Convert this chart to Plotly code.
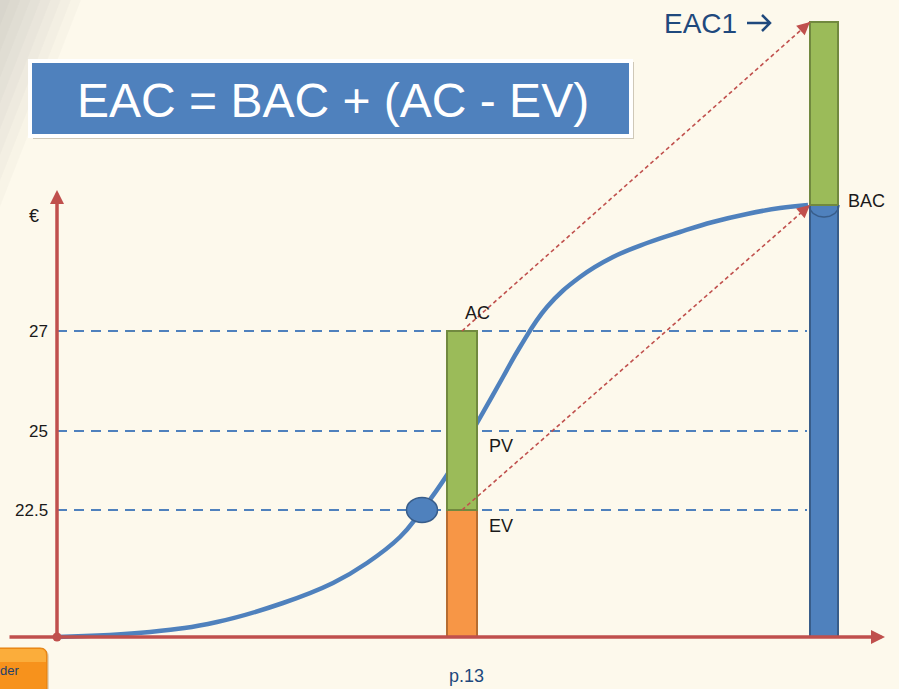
import numpy as np
import plotly.graph_objects as go

# ---------------- data (schematic chart units) ----------------
curve_t = [0, 93, 160, 226, 276, 310, 343, 363, 390, 420, 446, 463, 490, 523, 556, 590, 623, 656, 690, 723, 751]
curve_v = [0, 5, 15, 34, 54, 74, 100, 124, 162, 214, 260, 290, 330, 360, 380, 394, 405, 415, 423, 429, 432]

status_t = 405      # status date (AC / PV / EV bar)
end_t = 767         # planned completion (BAC / EAC bar)
ev_t = 365          # EV point on the curve

ev_level = 127      # 22.5
pv_level = 206      # 25
ac_level = 306      # 27
bac_level = 432     # BAC
eac_level = 615     # EAC1

tick_vals = [ev_level, pv_level, ac_level]
tick_text = ["22.5", "25", "27"]

# ---------------- styles ----------------
RED = "#c0504d"
BLUE = "#4f81bd"
DBLUE = "#385d8a"
GREEN = "#9bbb59"
DGREEN = "#71893f"
ORANGE = "#f79646"
DORANGE = "#b66d31"
NAVY = "#1f497d"
BG = "#fdf9ec"
FONT = "Liberation Sans, Arial, sans-serif"

W, H = 899, 689
X0, Y0 = 57, 637          # pixel position of the origin
XR = [-X0, W - X0]
YR = [Y0 - H, Y0]

fig = go.Figure()

# S-curve (base subplot, drawn beneath the bars)
fig.add_trace(go.Scatter(x=curve_t, y=curve_v, mode="lines",
                         line=dict(color=BLUE, width=4.5, shape="spline", smoothing=1.2),
                         hoverinfo="skip", showlegend=False))

# Bars (overlay subplot so they sit above the curve)
bw1, bw2 = 30, 28
bars = [
    (status_t, 0, ev_level, bw1, ORANGE, DORANGE),
    (status_t, ev_level, ac_level, bw1, GREEN, DGREEN),
    (end_t, 0, bac_level, bw2, BLUE, DBLUE),
    (end_t, bac_level, eac_level, bw2, GREEN, DGREEN),
]
for t, b, top, w, c, lc in bars:
    fig.add_trace(go.Bar(x=[t], y=[top - b], base=[b], width=w,
                         marker=dict(color=c, line=dict(color=lc, width=2)),
                         xaxis="x2", yaxis="y2", hoverinfo="skip", showlegend=False))

# half circle at BAC (end of curve)
th = np.linspace(np.pi, 2 * np.pi, 40)
fig.add_trace(go.Scatter(x=end_t + 15 * np.cos(th), y=bac_level + 12 * np.sin(th),
                         mode="lines", line=dict(color=DBLUE, width=1.5),
                         xaxis="x2", yaxis="y2", hoverinfo="skip", showlegend=False))

shapes = []
annotations = []

# background corner shading (soft)
for k in range(8):
    f = 1 - k / 8
    shapes.append(dict(type="path", xref="paper", yref="paper", layer="below",
                       path=f"M 0 1 L {0.09 * f:.4f} 1 L 0 {1 - 0.30 * f:.4f} Z",
                       fillcolor="rgba(150,145,130,0.045)", line=dict(width=0)))

# dashed reference lines
for lv in tick_vals:
    shapes.append(dict(type="line", xref="x", yref="y", layer="below",
                       x0=0, x1=end_t - bw2 / 2 - 3, y0=lv, y1=lv,
                       line=dict(color=BLUE, width=2, dash="10px,7px")))

# axes (lines with arrowheads)
annotations.append(dict(x=0, y=447, ax=0, ay=0, axref="x", ayref="y", xref="x", yref="y",
                        text="", showarrow=True, arrowhead=2, arrowsize=0.8,
                        arrowwidth=3.5, arrowcolor=RED))
annotations.append(dict(x=828, y=0, ax=-49, ay=0, axref="x", ayref="y", xref="x", yref="y",
                        text="", showarrow=True, arrowhead=2, arrowsize=0.8,
                        arrowwidth=3.5, arrowcolor=RED))
shapes.append(dict(type="circle", xref="x", yref="y", x0=-4.5, x1=4.5, y0=-4.5, y1=4.5,
                   fillcolor=RED, line=dict(width=0)))

# EV point marker
shapes.append(dict(type="circle", xref="x", yref="y",
                   x0=ev_t - 15.5, x1=ev_t + 15.5, y0=ev_level - 12.5, y1=ev_level + 12.5,
                   fillcolor=BLUE, line=dict(color=DBLUE, width=1.5)))

# dotted red arrows (AC -> EAC1, EV -> BAC)
for (sx, sy, ex, ey) in [(status_t, ac_level, end_t - bw2 / 2, eac_level),
                         (status_t, ev_level, end_t - bw2 / 2, bac_level)]:
    shapes.append(dict(type="line", xref="x", yref="y", x0=sx, y0=sy, x1=ex, y1=ey,
                       line=dict(color=RED, width=1.6, dash="4px,3px")))
    d = np.hypot(ex - sx, ey - sy)
    ux, uy = (ex - sx) / d, (ey - sy) / d
    annotations.append(dict(x=ex, y=ey, ax=ex - 9 * ux, ay=ey - 9 * uy,
                            axref="x", ayref="y", xref="x", yref="y", text="",
                            showarrow=True, arrowhead=2, arrowsize=1.6,
                            arrowwidth=1.6, arrowcolor=RED))

# title box
shapes.append(dict(type="rect", xref="x", yref="y", x0=-24, x1=577, y0=498, y1=575,
                   fillcolor="rgba(120,110,90,0.35)", line=dict(width=0)))
shapes.append(dict(type="rect", xref="x", yref="y", x0=-27, x1=574, y0=501, y1=576,
                   fillcolor=BLUE, line=dict(color="white", width=4)))
annotations.append(dict(x=276, y=537, xref="x", yref="y", text="EAC = BAC + (AC - EV)",
                        showarrow=False, font=dict(family=FONT, size=48, color="white")))

# y tick labels
for v, t in zip(tick_vals, tick_text):
    annotations.append(dict(x=-7, y=v, xref="x", yref="y", text=t, xanchor="right",
                            showarrow=False, font=dict(family=FONT, size=17, color="#1a1a1a")))
annotations.append(dict(x=-23, y=421, xref="x", yref="y", text="€", showarrow=False,
                        font=dict(family=FONT, size=18, color="#1a1a1a")))

# bar labels
annotations += [
    dict(x=status_t + 15, y=ac_level + 18, text="AC", xanchor="center"),
    dict(x=status_t + 25, y=pv_level - 15, text="PV", xanchor="left"),
    dict(x=status_t + 25, y=ev_level - 16, text="EV", xanchor="left"),
    dict(x=end_t + 22, y=bac_level + 4, text="BAC", xanchor="left"),
]
for a in annotations[-4:]:
    a.update(xref="x", yref="y", showarrow=False,
             font=dict(family=FONT, size=18, color="#1a1a1a"))

# "EAC1 ->" label
lx = end_t - 2 * bw2 - 29
annotations.append(dict(x=lx, y=eac_level - 1, xref="x", yref="y",
                        text="EAC1", xanchor="right", showarrow=False,
                        font=dict(family=FONT, size=28, color=NAVY)))
ay_ = eac_level - 1
shapes.append(dict(type="path", xref="x", yref="y",
                   path=(f"M {lx + 8} {ay_} L {lx + 31} {ay_} "
                         f"M {lx + 23} {ay_ + 8} L {lx + 31} {ay_} L {lx + 23} {ay_ - 8}"),
                   line=dict(color=NAVY, width=2.5)))

# page number
annotations.append(dict(x=409, y=-39, xref="x", yref="y", text="p.13", showarrow=False,
                        font=dict(family=FONT, size=18, color=NAVY)))

# orange button at bottom-left
r = 7
bx0, bx1, by0, by1 = -64, -10, -60, -11
shapes.append(dict(type="path", xref="x", yref="y",
                   path=(f"M {bx0} {by1 - 2} L {bx1 - r + 2} {by1 - 2} Q {bx1 + 2} {by1 - 2} {bx1 + 2} {by1 - r - 2} "
                         f"L {bx1 + 2} {by0} L {bx0} {by0} Z"),
                   fillcolor="rgba(150,110,60,0.25)", line=dict(width=0)))
shapes.append(dict(type="path", xref="x", yref="y",
                   path=(f"M {bx0} {by1} L {bx1 - r} {by1} Q {bx1} {by1} {bx1} {by1 - r} "
                         f"L {bx1} {by0} L {bx0} {by0} Z"),
                   fillcolor="#f7921c", line=dict(color="#e07f0c", width=1)))
shapes.append(dict(type="path", xref="x", yref="y",
                   path=(f"M {bx0} {by1 - 1} L {bx1 - r} {by1 - 1} Q {bx1 - 1} {by1 - 1} {bx1 - 1} {by1 - r - 1} "
                         f"L {bx1 - 1} {by1 - 14} L {bx0} {by1 - 14} Z"),
                   fillcolor="rgba(255,200,90,0.5)", line=dict(width=0)))
annotations.append(dict(x=-36, y=-33, xref="x", yref="y", text="der", xanchor="right",
                        showarrow=False,
                        font=dict(family=FONT, size=13, color="#24406b")))

fig.update_layout(
    width=W, height=H,
    margin=dict(l=0, r=0, t=0, b=0),
    paper_bgcolor=BG, plot_bgcolor="rgba(0,0,0,0)",
    barmode="overlay", bargap=0,
    xaxis=dict(range=XR, visible=False, fixedrange=True),
    yaxis=dict(range=YR, visible=False, fixedrange=True),
    xaxis2=dict(range=XR, visible=False, overlaying="x", fixedrange=True),
    yaxis2=dict(range=YR, visible=False, overlaying="y", anchor="x2", fixedrange=True),
    shapes=shapes, annotations=annotations,
    showlegend=False,
)

fig.write_html(
    "out.html",
    config={"displayModeBar": False},
    post_script=("document.body.style.margin='0';"
                 "document.body.style.overflow='hidden';"
                 "document.body.style.background='#fdf9ec';"),
)
